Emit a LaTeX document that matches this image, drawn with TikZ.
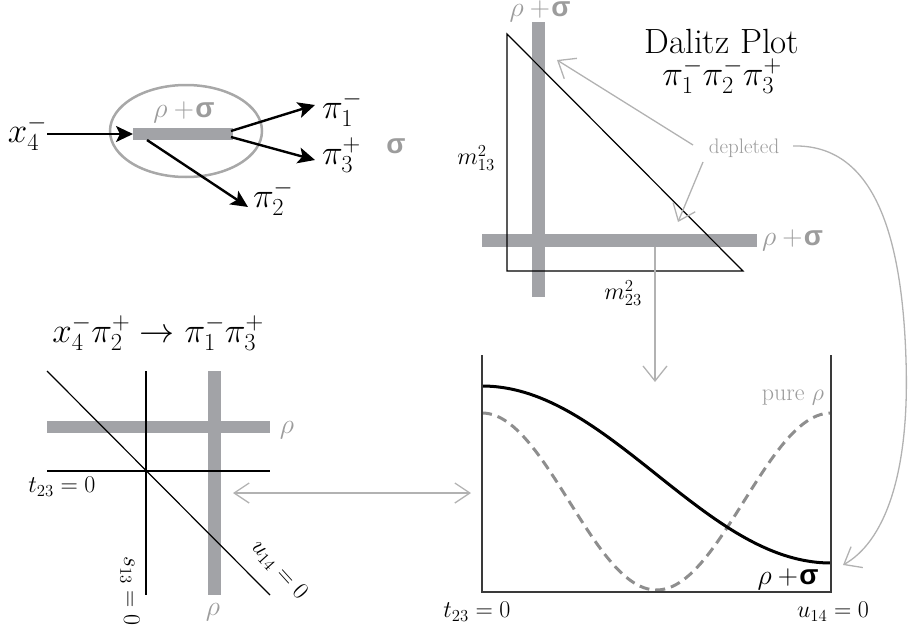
\RequirePackage{fix-cm}
\documentclass[tikz,border=0pt]{standalone}
\usepackage{fontspec}
\newfontfamily\sigf{Liberation Sans}
\usetikzlibrary{arrows.meta,shapes.geometric}
\definecolor{barcol}{HTML}{A2A3A7}
\definecolor{lblgray}{HTML}{9C9C9C}
\definecolor{arrgray}{HTML}{B2B2B2}
\definecolor{dashgray}{HTML}{8E8E8E}
\definecolor{ellgray}{HTML}{A8A8A8}
\definecolor{axisgray}{HTML}{3A3A3A}
\newcommand{\rhosig}{$\rho$\hspace{0.22em}$+$\hspace{0.05em}{\sigf\bfseries σ}}
\tikzset{
  lbl/.style={inner sep=0pt, outer sep=0pt},
  bigm/.style={lbl, font=\fontsize{35}{40}\selectfont},
  rsf/.style={lbl, font=\fontsize{28}{34}\selectfont},
  midm/.style={lbl, font=\fontsize{24}{28}\selectfont},
  smallm/.style={lbl, font=\fontsize{24}{28}\selectfont},
  graytext/.style={text=lblgray},
  blkarrow/.style={line width=2.4pt, -{Stealth[length=17pt,width=16pt,inset=4pt]}},
  grayarrow/.style={draw=arrgray, line width=1.3pt, -{Straight Barb[length=15pt,width=24pt]}},
  grayarrowsm/.style={draw=arrgray, line width=1.3pt, {Straight Barb[length=15pt,width=20pt]}-{Straight Barb[length=15pt,width=20pt]}},
  barbox/.style={fill=barcol, draw=none, inner sep=0pt, outer sep=0pt},
  thinline/.style={line width=1.2pt, draw=black},
}
\begin{document}
\begin{tikzpicture}[x=1pt,y=-1pt]
\useasboundingbox (0,0) rectangle (908,632);

% ---------- top-left decay ----------
\node[draw=ellgray, line width=2.5pt, ellipse, minimum width=152pt, minimum height=92pt, inner sep=0pt] (ell) at (186,131) {};
\node[barbox, minimum width=100pt, minimum height=12pt] (bar) at (183,134) {};
\node[rsf, graytext] (rs1) at (184,112) {\rhosig};
\node[bigm, anchor=base west] (x4) at (8,142) {$x_4^-$};
\coordinate (x4e) at (47,134);
\coordinate (b1) at (231,131);
\coordinate (b3) at (231,137);
\coordinate (b2) at (147,140);
\node[bigm, anchor=base west] (p1) at (322,118) {$\pi_1^-$};
\node[bigm, anchor=base west] (p3) at (322,164) {$\pi_3^+$};
\node[bigm, anchor=base west] (p2) at (253,207) {$\pi_2^-$};
\coordinate (p1t) at (315,105);
\coordinate (p3t) at (315,160);
\coordinate (p2t) at (248,207);
\draw[blkarrow] (x4e) -- (bar.west);
\draw[blkarrow] (b1) -- (p1t);
\draw[blkarrow] (b3) -- (p3t);
\draw[blkarrow] (b2) -- (p2t);
\node[rsf, graytext] (sig) at (396,146) {\sigf\bfseries σ};

% ---------- Dalitz plot ----------
\node[barbox, minimum width=13pt, minimum height=275pt] (vbar) at (538.5,159.5) {};
\node[barbox, minimum width=275pt, minimum height=13pt] (hbar) at (619.5,240) {};
\coordinate (T1) at (507,34);
\coordinate (T2) at (507,271);
\coordinate (T3) at (743,271);
\draw[thinline] (T1) -- (T2) -- (T3) -- cycle;
\node[rsf, graytext] (rstop) at (540,11) {\rhosig};
\node[rsf, graytext, anchor=west] (rsright) at (762,240) {\rhosig};
\node[lbl, font=\fontsize{35}{40}\selectfont, anchor=base] (title) at (722,53) {Dalitz Plot};
\node[bigm, anchor=base] (pions) at (722,85) {$\pi_1^-\pi_2^-\pi_3^+$};
\node[smallm] (m13) at (476,158) {$m_{13}^2$};
\node[smallm] (m23) at (623,293) {$m_{23}^2$};
\node[lbl, font=\fontsize{21}{24}\selectfont, graytext] (dep) at (744,148) {depleted};
\coordinate (d1s) at (693,145);
\coordinate (d1t) at (557,60);
\coordinate (d2s) at (703,162);
\coordinate (d2t) at (678,222);
\draw[grayarrow] (d1s) -- (d1t);
\draw[grayarrow] (d2s) -- (d2t);
\coordinate (cs) at (793,146);
\coordinate (cm) at (906,360);
\coordinate (ct) at (843,565);
\draw[grayarrow] (cs) .. controls (872,144) and (902,230) .. (cm) .. controls (910,480) and (882,543) .. (ct);
\coordinate (vs) at (655,247);
\coordinate (vt) at (655,382);
\draw[grayarrow] (vs) -- (vt);

% ---------- bottom-left ----------
\node[bigm, anchor=base] (t2) at (158,342) {$x_4^-\pi_2^+\to\pi_1^-\pi_3^+$};
\node[barbox, minimum width=223pt, minimum height=12pt] (hb2) at (158.5,427) {};
\node[barbox, minimum width=13pt, minimum height=224pt] (vb2) at (214.5,483) {};
\coordinate (D1) at (47,371);
\coordinate (D2) at (270,595);
\coordinate (V1) at (146,371);
\coordinate (V2) at (146,595);
\coordinate (H1) at (47,471);
\coordinate (H2) at (270,471);
\draw[thinline] (D1) -- (D2);
\draw[thinline] (V1) -- (V2);
\draw[thinline] (H1) -- (H2);
\node[rsf, graytext] (rho1) at (287,430) {$\rho$};
\node[rsf, graytext] (rho2) at (213,612) {$\rho$};
\node[midm] (tl) at (62,487) {$t_{23}=0$};
\node[midm, rotate=-90] (sl) at (130,591) {$s_{13}=0$};
\node[midm, rotate=-48] (ul) at (279,570) {$u_{14}=0$};
\coordinate (a1) at (233,493);
\coordinate (a2) at (471,493);
\draw[grayarrowsm] (a1) -- (a2);

% ---------- bottom-right ----------
\coordinate (A1) at (482,355);
\coordinate (A2) at (482,592);
\coordinate (A3) at (831,592);
\coordinate (A4) at (831,355);
\draw[draw=dashgray, line width=3pt, dash pattern=on 10pt off 6pt] plot[domain=0:1, samples=100] ({482+349*\x},{501.5-88.5*cos(360*\x)});
\draw[line width=3pt, black] plot[domain=0:1, samples=100] ({482+349*\x},{474.5-88.5*cos(180*\x)});
\draw[draw=axisgray, line width=1.6pt] (A1) -- (A2) -- (A3) -- (A4);
\node[lbl, font=\fontsize{24}{28}\selectfont, graytext] (pure) at (793,398) {pure $\rho$};
\node[rsf] (rsb) at (788,579) {\rhosig};
\node[midm] (tb) at (477,612) {$t_{23}=0$};
\node[midm] (ub) at (833,612) {$u_{14}=0$};
\end{tikzpicture}
\end{document}
